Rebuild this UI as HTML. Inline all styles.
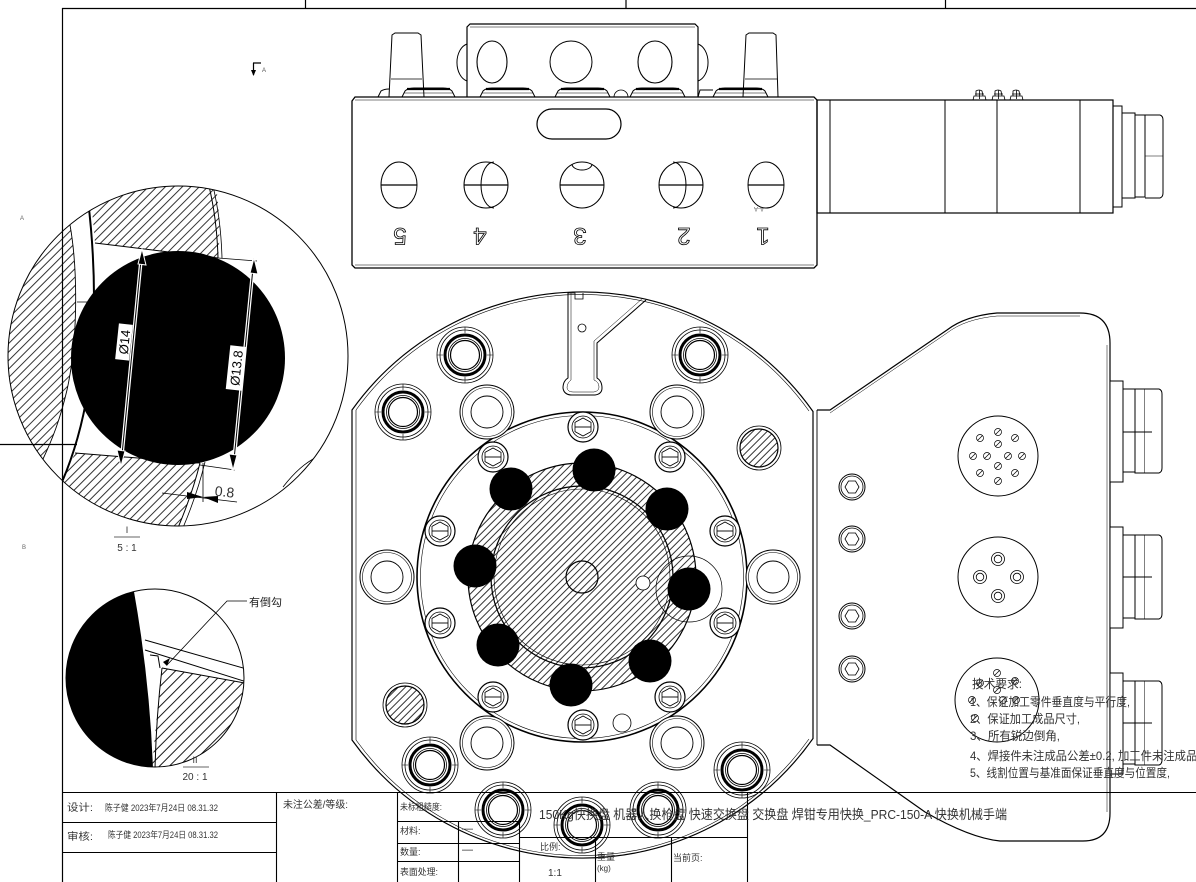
<!DOCTYPE html>
<html><head><meta charset="utf-8">
<style>
html,body{margin:0;padding:0;background:#fff;}
svg{display:block;}
text{font-family:"Liberation Sans","Noto Sans CJK SC",sans-serif;}
</style></head>
<body>
<svg width="1196" height="882" viewBox="0 0 1196 882" xmlns="http://www.w3.org/2000/svg">
<defs>
<pattern id="h5" width="5" height="5" patternUnits="userSpaceOnUse" patternTransform="rotate(45)"><line x1="2.5" y1="0" x2="2.5" y2="5" stroke="#000" stroke-width="0.8"/></pattern>
<pattern id="h6" width="6" height="6" patternUnits="userSpaceOnUse" patternTransform="rotate(45)"><line x1="3" y1="0" x2="3" y2="6" stroke="#000" stroke-width="0.8"/></pattern>
<pattern id="h7" width="7" height="7" patternUnits="userSpaceOnUse" patternTransform="rotate(45)"><line x1="3.5" y1="0" x2="3.5" y2="7" stroke="#000" stroke-width="0.9"/></pattern>
<clipPath id="cI"><circle cx="178" cy="356" r="170"/></clipPath>
<clipPath id="cII"><circle cx="155" cy="678" r="89"/></clipPath>
<g id="bolt" fill="none" stroke="#000">
<circle r="28" stroke-width="0.8"/>
<circle r="25" stroke-width="0.8"/>
<circle r="20" stroke-width="3"/>
<circle r="16.5" stroke-width="0.8"/>
<circle r="14.5" stroke-width="1.2"/>
<path d="M-28,0h6M22,0h6M0,-28v6M0,22v6" stroke-width="0.6"/>
</g>
<g id="scr" fill="#fff" stroke="#000">
<circle r="15" stroke-width="1.2"/>
<circle r="11" stroke-width="0.8"/>
<path d="M-8,-4.6L0,-9L8,-4.6L8,4.6L0,9L-8,4.6Z" fill="none" stroke-width="0.8"/>
<line x1="-8" y1="0" x2="8" y2="0" stroke-width="0.9"/>
</g>
<g id="mh" stroke="#000">
<circle r="27" fill="#fff" stroke-width="1"/>
<circle r="24.5" fill="none" stroke-width="0.6"/>
<circle r="16" fill="none" stroke-width="0.9"/>
</g>
<g id="hex" fill="none" stroke="#000">
<circle r="13" stroke-width="1"/>
<circle r="11" stroke-width="0.8"/>
<path d="M-7,0L-3.5,-6L3.5,-6L7,0L3.5,6L-3.5,6Z" stroke-width="0.8"/>
</g>
<g id="pin" fill="none" stroke="#000" stroke-width="0.7">
<circle r="3.5"/><line x1="-2.5" y1="2.5" x2="2.5" y2="-2.5"/>
</g>
<g id="pin2" fill="none" stroke="#000" stroke-width="0.8">
<circle r="6.5"/><circle r="3.8"/>
</g>
</defs>

<rect width="1196" height="882" fill="#fff"/>

<!-- frame -->
<g stroke="#000" stroke-width="1.2" fill="none">
<line x1="62" y1="8.5" x2="1196" y2="8.5"/>
<line x1="62.5" y1="8" x2="62.5" y2="882"/>
<line x1="305.5" y1="0" x2="305.5" y2="8"/>
<line x1="626" y1="0" x2="626" y2="8"/>
<line x1="945.5" y1="0" x2="945.5" y2="8"/>
</g>

<!-- section marker -->
<path d="M253,63 L261,63 M253.5,63 L253.5,75" stroke="#000" stroke-width="1.2" fill="none"/>
<path d="M251,70 L256,70 L253.5,76 Z" fill="#000"/>
<text x="262" y="72" font-size="6" fill="#555">A</text>
<text x="20" y="220" font-size="6" fill="#666">A</text>
<text x="22" y="549" font-size="6" fill="#666">B</text>

<!-- ================= SIDE VIEW (top) ================= -->
<g stroke="#000" fill="none">
<!-- top block -->
<path d="M467,97 L467,27 L470,24 L695,24 L698,27 L698,97" stroke-width="1.2" fill="#fff"/>
<line x1="470" y1="27" x2="695" y2="27" stroke-width="0.6"/>
<ellipse cx="492" cy="62" rx="15" ry="21" stroke-width="1.1"/>
<circle cx="571" cy="62" r="21" stroke-width="1"/>
<ellipse cx="655" cy="62" rx="17" ry="21" stroke-width="1.1"/>
<path d="M467,44 A13,19 0 0,0 467,81" stroke-width="1"/>
<path d="M698,44 A13,19 0 0,1 698,81" stroke-width="1"/>
<!-- pegs -->
<path d="M389,97 L392,35 L395,33 L418,33 L421,35 L424,97" stroke-width="1" fill="#fff"/>
<line x1="391" y1="79" x2="422" y2="79" stroke-width="0.7"/>
<path d="M743,97 L746,35 L749,33 L773,33 L776,35 L778,97" stroke-width="1" fill="#fff"/>
<line x1="745" y1="79" x2="777" y2="79" stroke-width="0.7"/>
<!-- buttons -->
<g stroke-width="1">
<path d="M378,97 L381,91 Q384,89 389,89"/>
<path d="M402,97 L405,91 Q408,88 414,88 L443,88 Q449,88 452,91 L455,97"/>
<path d="M480,97 L483,91 Q486,88 492,88 L523,88 Q529,88 532,91 L535,97"/>
<path d="M555,97 L558,91 Q561,88 567,88 L598,88 Q604,88 607,91 L610,97"/>
<path d="M630,97 L633,91 Q636,88 642,88 L673,88 Q679,88 682,91 L685,97"/>
<path d="M713,97 L716,91 Q719,88 725,88 L756,88 Q762,88 765,91 L768,97"/>
<path d="M698,97 L700,90 L713,90"/>
</g>
<g stroke-width="2.2">
<line x1="407" y1="89" x2="450" y2="89"/>
<line x1="486" y1="89" x2="529" y2="89"/>
<line x1="561" y1="89" x2="604" y2="89"/>
<line x1="636" y1="89" x2="679" y2="89"/>
<line x1="719" y1="89" x2="762" y2="89"/>
</g>
<g stroke-width="0.6">
<line x1="404" y1="93" x2="453" y2="93"/>
<line x1="482" y1="93" x2="533" y2="93"/>
<line x1="557" y1="93" x2="608" y2="93"/>
<line x1="632" y1="93" x2="683" y2="93"/>
<line x1="715" y1="93" x2="766" y2="93"/>
</g>
<path d="M614,97 A7,7 0 0,1 628,97" stroke-width="0.8"/>
<!-- body -->
<path d="M352,101 L355,97 L814,97 L817,100 L817,265 L814,268 L355,268 L352,265 Z" stroke-width="1.3" fill="#fff"/>
<line x1="355" y1="100" x2="814" y2="100" stroke-width="0.6"/>
<line x1="355" y1="265" x2="814" y2="265" stroke-width="0.6"/>
<rect x="537" y="109" width="84" height="30" rx="15" stroke-width="1.2"/>
<!-- holes -->
<g stroke-width="1">
<ellipse cx="399" cy="185" rx="18" ry="23"/><line x1="381" y1="185" x2="417" y2="185" stroke-width="1.3"/>
<ellipse cx="486" cy="185" rx="22" ry="23"/><line x1="464" y1="185" x2="508" y2="185" stroke-width="1.3"/>
<path d="M494,162 A13,23 0 0,0 494,208"/>
<ellipse cx="582" cy="185" rx="22" ry="23"/><line x1="560" y1="185" x2="604" y2="185" stroke-width="1.3"/>
<path d="M572,164 A10,6 0 0,0 592,164"/>
<ellipse cx="681" cy="185" rx="22" ry="23"/><line x1="659" y1="185" x2="703" y2="185" stroke-width="1.3"/>
<path d="M673,162 A13,23 0 0,1 673,208"/>
<ellipse cx="766" cy="185" rx="18" ry="23"/><line x1="748" y1="185" x2="784" y2="185" stroke-width="1.3"/>
</g>
</g>
<text x="756" y="213" font-size="6" fill="#555" transform="rotate(180 760 210)">A-A</text>
<g font-size="24" fill="none" stroke="#000" stroke-width="0.8" text-anchor="middle">
<text transform="translate(400,237) rotate(180)" dy="9">5</text>
<text transform="translate(480,237) rotate(180)" dy="9">4</text>
<text transform="translate(580,237) rotate(180)" dy="9">3</text>
<text transform="translate(684,237) rotate(180)" dy="9">2</text>
<text transform="translate(763,237) rotate(180)" dy="9">1</text>
</g>
<!-- right cylinder -->
<g stroke="#000" fill="none" stroke-width="1">
<rect x="817" y="100" width="296" height="113" stroke-width="1.2"/>
<line x1="830" y1="100" x2="830" y2="213"/>
<line x1="945" y1="100" x2="945" y2="213"/>
<line x1="997" y1="100" x2="997" y2="213"/>
<line x1="1080" y1="100" x2="1080" y2="213"/>
<rect x="1113" y="106" width="9" height="101"/>
<rect x="1122" y="113" width="13" height="85"/>
<rect x="1135" y="115" width="10" height="82"/>
<path d="M1145,115 L1160,115 Q1163,116 1163,120 L1163,193 Q1163,197 1160,198 L1145,198"/>
<line x1="1145" y1="156" x2="1163" y2="156" stroke-width="0.6"/>
<g stroke-width="0.8">
<path d="M973,100 L974,96 L985,96 L986,100 M976,96 L976,91 Q979,89 982,91 L983,96 M979.5,90 L979.5,99 M975,94 L984,94"/>
<path d="M992,100 L993,96 L1004,96 L1005,100 M995,96 L995,91 Q998,89 1001,91 L1002,96 M998.5,90 L998.5,99 M994,94 L1003,94"/>
<path d="M1010,100 L1011,96 L1022,96 L1023,100 M1013,96 L1013,91 Q1016,89 1019,91 L1020,96 M1016.5,90 L1016.5,99 M1012,94 L1021,94"/>
</g>
</g>

<!-- ================= DETAIL I ================= -->
<g clip-path="url(#cI)">
<path d="M88,180 L215,180 Q222,220 218,258 L95,243 Q93,215 88,180 Z" fill="url(#h6)"/>
<path d="M70,225 C78,270 78,340 67,390 C60,420 52,440 43,459 L0,459 L0,180 L60,180 Z" fill="url(#h6)"/>
<path d="M75,453 L200,463 Q192,495 177,530 L120,530 L62,482 Z" fill="url(#h6)"/>
<g stroke="#000" fill="none">
<path d="M70,225 C78,270 78,340 67,390 C60,420 52,440 43,459" stroke-width="0.9"/>
<path d="M88,200 Q100,300 88,390 Q80,440 62,482" stroke-width="2"/>
<line x1="95" y1="243" x2="218" y2="258" stroke-width="1"/>
<path d="M209,186 Q217,220 218,258" stroke-width="1"/>
<path d="M213,186 Q221,220 222,258" stroke-width="0.8"/>
<line x1="75" y1="453" x2="200" y2="463" stroke-width="1"/>
<path d="M200,463 Q192,495 177,530" stroke-width="1"/>
<path d="M205,462 Q197,495 182,530" stroke-width="0.8"/>
<line x1="77" y1="302" x2="97" y2="302" stroke-width="0.8"/>
<path d="M283,487 Q300,465 317,457" stroke-width="0.8"/>
</g>
</g>
<circle cx="178" cy="356" r="170" fill="none" stroke="#000" stroke-width="1"/>
<circle cx="178" cy="358" r="107" fill="#000"/>
<!-- extension lines -->
<g stroke="#000" stroke-width="0.8" fill="none">
<line x1="218" y1="258" x2="257" y2="261"/>
<line x1="200" y1="465" x2="235" y2="470"/>
<line x1="203" y1="463" x2="203" y2="502"/>
<line x1="162" y1="493" x2="237" y2="502"/>
<line x1="0" y1="444.5" x2="77" y2="444.5" stroke-width="1.2"/>
</g>
<!-- dim Ø14 -->
<line x1="142" y1="250" x2="121" y2="465" stroke="#fff" stroke-width="3.5"/>
<line x1="142" y1="250" x2="121" y2="465" stroke="#000" stroke-width="1"/>
<path d="M142,249 L146,265 L138,264 Z" fill="#000" stroke="#fff" stroke-width="1"/>
<path d="M121,466 L117,450 L125,451 Z" fill="#000" stroke="#fff" stroke-width="1"/>
<g transform="translate(124,342) rotate(-84)">
<rect x="-18" y="-7" width="36" height="14" fill="#fff"/>
<text x="0" y="5" font-size="13" text-anchor="middle" fill="#000">Ø14</text>
</g>
<!-- dim Ø13.8 -->
<line x1="254" y1="258" x2="233" y2="470" stroke="#fff" stroke-width="3.5"/>
<line x1="254" y1="258" x2="233" y2="470" stroke="#000" stroke-width="1"/>
<path d="M254,258 L258,274 L250,273 Z" fill="#000" stroke="#fff" stroke-width="1"/>
<path d="M233,470 L229,454 L237,455 Z" fill="#000" stroke="#fff" stroke-width="1"/>
<g transform="translate(236,368) rotate(-84)">
<rect x="-22" y="-8" width="44" height="16" fill="#fff"/>
<text x="0" y="5" font-size="13" text-anchor="middle" fill="#000">Ø13.8</text>
</g>
<!-- 0.8 -->
<path d="M203,497 L187,492 L187,499 Z" fill="#000"/>
<path d="M203,497 L218,496 L218,503 Z" fill="#000"/>
<text x="215" y="497" font-size="14" fill="#333" transform="rotate(6 228 490)">0.8</text>
<text x="127" y="533" font-size="9" fill="#333" text-anchor="middle">I</text>
<line x1="114" y1="537" x2="140" y2="537" stroke="#333" stroke-width="0.8"/>
<text x="127" y="551" font-size="10" fill="#333" text-anchor="middle">5 : 1</text>

<!-- ================= DETAIL II ================= -->
<g clip-path="url(#cII)">
<path d="M162,668 L250,684 L250,770 L152,770 Q156,720 162,668 Z" fill="url(#h7)"/>
<path d="M133,586 Q150,680 153,770 L60,770 L60,586 Z" fill="#000"/>
<g stroke="#000" fill="none" stroke-width="1">
<line x1="145" y1="640" x2="250" y2="670"/>
<line x1="145" y1="650" x2="250" y2="683"/>
<line x1="162" y1="668" x2="250" y2="684"/>
<path d="M162,668 Q156,720 155,770"/>
<path d="M150,655 L158,656 L160,668"/>
</g>
<path d="M163,662 L170,658 L167,666 Z" fill="#000"/>
</g>
<circle cx="155" cy="678" r="89" fill="none" stroke="#000" stroke-width="1"/>
<path d="M167,665 L227,601 L247,601" stroke="#000" stroke-width="0.8" fill="none"/>
<text x="249" y="606" font-size="11" fill="#222">有倒勾</text>
<text x="195" y="763" font-size="9" fill="#333" text-anchor="middle">II</text>
<line x1="183" y1="767" x2="209" y2="767" stroke="#333" stroke-width="0.8"/>
<text x="195" y="780" font-size="10" fill="#333" text-anchor="middle">20 : 1</text>

<!-- ================= FRONT VIEW ================= -->
<g stroke="#000" fill="none">
<!-- right plate -->
<path d="M817,410 L830,410 L947,330 Q965,316 997,313 L1080,313 Q1110,313 1110,343 L1110,813 Q1110,841 1083,841 L1000,841 Q970,838 925,812 L830,745 L817,745" stroke-width="1.2"/>
<path d="M830,413 L947,333 Q965,319 997,316 L1080,316" stroke-width="0.5"/>
<line x1="1107" y1="345" x2="1107" y2="812" stroke-width="0.5"/>
<!-- outer body -->
<path d="M352,410 A283,283 0 0,1 813,411.5 L813,738.5 A283,283 0 0,1 352,740 Z" stroke-width="1.2"/>
<path d="M356,410 A279,279 0 0,1 809,411" stroke-width="0.6"/>
<path d="M809,739 A279,279 0 0,1 356,740" stroke-width="0.6"/>
<line x1="356" y1="410" x2="356" y2="740" stroke-width="0.6"/>
<line x1="817" y1="410" x2="817" y2="745" stroke-width="0.9"/>
<!-- key slot -->
<path d="M568,292 L568,378 Q563,381 563,388 Q564,395 572,395 L595,395 Q602,394 602,388 Q602,381 597,378 L597,343 L646,300" stroke-width="1"/>
<path d="M571,293 L571,380 Q567,383 567,388 Q568,392 573,392 L594,392 Q599,391 599,387 Q599,382 594,380 L594,341 L643,298" stroke-width="0.5"/>
<path d="M568,293 L575,293 L575,299 L583,299 L583,293" stroke-width="0.8"/>
<circle cx="582" cy="328" r="4" stroke-width="0.8"/>
<!-- ring -->
<circle cx="582" cy="577" r="165" stroke-width="1.6"/>
<circle cx="582" cy="577" r="161.5" stroke-width="0.6"/>
</g>
<!-- mounting holes -->
<use href="#mh" x="487" y="412"/>
<use href="#mh" x="677" y="412"/>
<use href="#mh" x="387" y="577"/>
<use href="#mh" x="773" y="577"/>
<use href="#mh" x="487" y="743"/>
<use href="#mh" x="677" y="743"/>
<!-- hub -->
<circle cx="582" cy="577" r="114" fill="url(#h5)" stroke="#000" stroke-width="1.2"/>
<circle cx="582" cy="577" r="91" fill="none" stroke="#000" stroke-width="1.2"/>
<circle cx="582" cy="577" r="88" fill="none" stroke="#000" stroke-width="0.6"/>
<circle cx="582" cy="577" r="16" fill="none" stroke="#000" stroke-width="1.2"/>
<circle cx="689" cy="589" r="33" fill="none" stroke="#000" stroke-width="0.7"/>
<circle cx="643" cy="583" r="7" fill="#fff" stroke="#000" stroke-width="0.8"/>
<circle cx="622" cy="723" r="9" fill="none" stroke="#000" stroke-width="0.8"/>
<!-- screws -->
<use href="#scr" x="583" y="427"/>
<use href="#scr" x="493" y="457"/>
<use href="#scr" x="670" y="457"/>
<use href="#scr" x="440" y="531"/>
<use href="#scr" x="725" y="531"/>
<use href="#scr" x="440" y="623"/>
<use href="#scr" x="725" y="623"/>
<use href="#scr" x="493" y="697"/>
<use href="#scr" x="670" y="697"/>
<use href="#scr" x="583" y="725"/>
<!-- balls -->
<g fill="#000">
<circle cx="511" cy="489" r="21.5"/>
<circle cx="594" cy="470" r="21.5"/>
<circle cx="667" cy="509" r="21.5"/>
<circle cx="475" cy="566" r="21.5"/>
<circle cx="689" cy="589" r="21.5"/>
<circle cx="498" cy="645" r="21.5"/>
<circle cx="571" cy="685" r="21.5"/>
<circle cx="650" cy="661" r="21.5"/>
</g>
<!-- hatched pins -->
<circle cx="759" cy="448" r="22" fill="none" stroke="#000" stroke-width="0.8"/>
<circle cx="759" cy="448" r="19" fill="url(#h5)" stroke="#000" stroke-width="1.2"/>
<circle cx="405" cy="705" r="22" fill="none" stroke="#000" stroke-width="0.8"/>
<circle cx="405" cy="705" r="19" fill="url(#h5)" stroke="#000" stroke-width="1.2"/>
<!-- bolts -->
<use href="#bolt" x="465" y="355"/>
<use href="#bolt" x="700" y="355"/>
<use href="#bolt" x="403" y="412"/>
<use href="#bolt" x="430" y="765"/>
<use href="#bolt" x="503" y="810"/>
<use href="#bolt" x="582" y="825"/>
<use href="#bolt" x="658" y="810"/>
<use href="#bolt" x="742" y="770"/>
<!-- hex screws -->
<use href="#hex" x="852" y="487"/>
<use href="#hex" x="852" y="539"/>
<use href="#hex" x="852" y="616"/>
<use href="#hex" x="852" y="669"/>
<!-- connector faces -->
<g fill="none" stroke="#000" stroke-width="1">
<circle cx="998" cy="456" r="40"/>
<circle cx="998" cy="577" r="40"/>
<circle cx="997" cy="700" r="42"/>
</g>
<use href="#pin" x="998" y="432"/>
<use href="#pin" x="980" y="438"/>
<use href="#pin" x="1015" y="438"/>
<use href="#pin" x="998" y="444"/>
<use href="#pin" x="973" y="456"/>
<use href="#pin" x="987" y="456"/>
<use href="#pin" x="1008" y="456"/>
<use href="#pin" x="1022" y="456"/>
<use href="#pin" x="998" y="466"/>
<use href="#pin" x="980" y="473"/>
<use href="#pin" x="1015" y="473"/>
<use href="#pin" x="998" y="481"/>
<use href="#pin2" x="998" y="559"/>
<use href="#pin2" x="980" y="577"/>
<use href="#pin2" x="1017" y="577"/>
<use href="#pin2" x="998" y="596"/>
<use href="#pin" x="997" y="673"/>
<use href="#pin" x="980" y="683"/>
<use href="#pin" x="1015" y="681"/>
<use href="#pin" x="997" y="690"/>
<use href="#pin" x="1003" y="700"/>
<use href="#pin" x="972" y="700"/>
<use href="#pin" x="1016" y="700"/>
<use href="#pin" x="975" y="718"/>
<!-- side connectors -->
<g fill="#fff" stroke="#000" stroke-width="1">
<rect x="1110" y="381" width="13" height="101"/>
<rect x="1123" y="389" width="12" height="83"/>
<rect x="1135" y="389" width="10" height="84"/>
<path d="M1145,389 L1159,389 Q1162,390 1162,394 L1162,468 Q1162,472 1159,473 L1145,473"/>
<line x1="1123" y1="432" x2="1152" y2="432"/>
<rect x="1110" y="527" width="13" height="101"/>
<rect x="1123" y="535" width="12" height="83"/>
<rect x="1135" y="535" width="10" height="84"/>
<path d="M1145,535 L1159,535 Q1162,536 1162,540 L1162,614 Q1162,618 1159,619 L1145,619"/>
<line x1="1123" y1="577" x2="1152" y2="577"/>
<rect x="1110" y="673" width="13" height="101"/>
<rect x="1123" y="681" width="12" height="83"/>
<rect x="1135" y="681" width="10" height="84"/>
<path d="M1145,681 L1159,681 Q1162,682 1162,686 L1162,760 Q1162,764 1159,765 L1145,765"/>
<line x1="1123" y1="723" x2="1152" y2="723"/>
</g>

<!-- technical requirements -->
<g font-size="12" fill="#333">
<text x="972" y="688" textLength="50" lengthAdjust="spacingAndGlyphs">技术要求:</text>
<text x="970" y="706" textLength="160" lengthAdjust="spacingAndGlyphs">1、保证加工零件垂直度与平行度,</text>
<text x="970" y="723" textLength="110" lengthAdjust="spacingAndGlyphs">2、保证加工成品尺寸,</text>
<text x="970" y="740" textLength="90" lengthAdjust="spacingAndGlyphs">3、所有锐边倒角,</text>
<text x="970" y="760" textLength="250" lengthAdjust="spacingAndGlyphs">4、焊接件未注成品公差±0.2, 加工件未注成品公差</text>
<text x="970" y="777" textLength="200" lengthAdjust="spacingAndGlyphs">5、线割位置与基准面保证垂直度与位置度,</text>
</g>

<!-- ================= TITLE BLOCK ================= -->
<g stroke="#000" stroke-width="1.1" fill="none">
<line x1="62" y1="792.5" x2="1196" y2="792.5"/>
<line x1="276.5" y1="792" x2="276.5" y2="882"/>
<line x1="397.5" y1="792" x2="397.5" y2="882"/>
<line x1="62" y1="822.5" x2="276" y2="822.5"/>
<line x1="62" y1="852.5" x2="276" y2="852.5"/>
<line x1="397" y1="821.5" x2="519" y2="821.5"/>
<line x1="397" y1="843.5" x2="519" y2="843.5"/>
<line x1="397" y1="861.5" x2="519" y2="861.5"/>
<line x1="519" y1="837.5" x2="747" y2="837.5"/>
<line x1="458.5" y1="821" x2="458.5" y2="882"/>
<line x1="519.5" y1="821" x2="519.5" y2="882"/>
<line x1="595.5" y1="837" x2="595.5" y2="882"/>
<line x1="671.5" y1="837" x2="671.5" y2="882"/>
<line x1="747.5" y1="792" x2="747.5" y2="882"/>
</g>
<g fill="#333" font-size="10">
<text x="67" y="811" textLength="26" lengthAdjust="spacingAndGlyphs">设计:</text>
<text x="105" y="811" font-size="9" textLength="113" lengthAdjust="spacingAndGlyphs">陈子健 2023年7月24日 08.31.32</text>
<text x="67" y="840" textLength="26" lengthAdjust="spacingAndGlyphs">审核:</text>
<text x="108" y="838" font-size="9" textLength="110" lengthAdjust="spacingAndGlyphs">陈子健 2023年7月24日 08.31.32</text>
<text x="283" y="808" textLength="65" lengthAdjust="spacingAndGlyphs">未注公差/等级:</text>
<text x="400" y="810" font-size="9" textLength="42" lengthAdjust="spacingAndGlyphs">未标粗糙度:</text>
<text x="400" y="834" font-size="9">材料:</text>
<text x="462" y="832" font-size="11">—</text>
<text x="400" y="855" font-size="9">数量:</text>
<text x="462" y="853" font-size="11">—</text>
<text x="400" y="875" font-size="9" textLength="38" lengthAdjust="spacingAndGlyphs">表面处理:</text>
<text x="540" y="850" font-size="9">比例:</text>
<text x="548" y="876" font-size="10">1:1</text>
<text x="597" y="860" font-size="9">重量</text>
<text x="597" y="871" font-size="8">(kg)</text>
<text x="673" y="861" font-size="9">当前页:</text>
<text x="539" y="819" font-size="13" textLength="468" lengthAdjust="spacingAndGlyphs">150Kg快换盘 机器人换枪盘 快速交换盘 交换盘 焊钳专用快换_PRC-150-A 快换机械手端</text>
</g>
</svg>
</body></html>
